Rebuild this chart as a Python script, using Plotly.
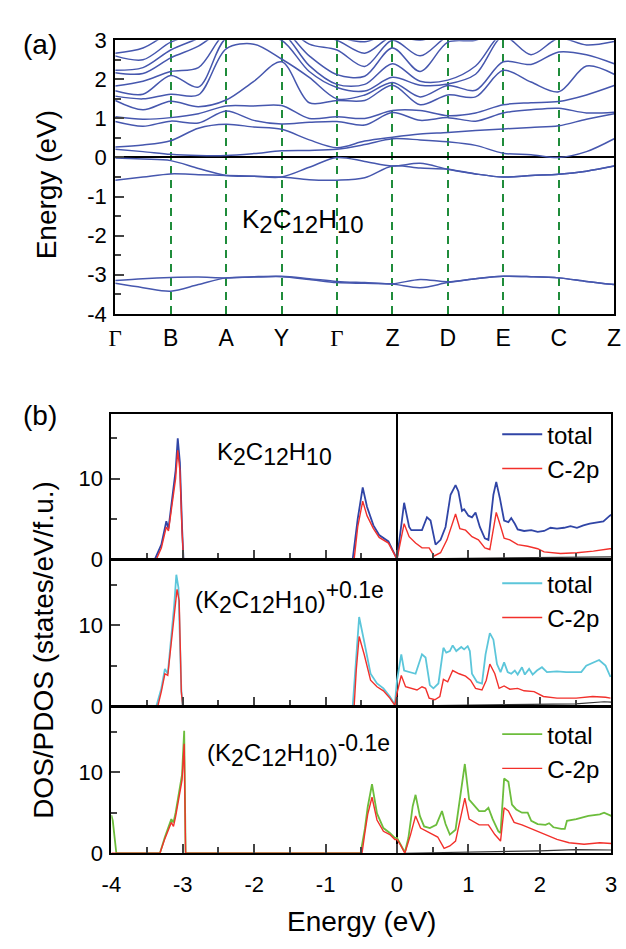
import plotly.graph_objects as go

# ---------------- (a) band structure ----------------
k_labels = ["Γ", "B", "A", "Y", "Γ", "Z", "D", "E", "C", "Z"]
k_path = [0, 0.5, 1, 1.5, 2, 2.5, 3, 3.5, 4, 4.5, 5, 5.5, 6, 6.5, 7, 7.5, 8, 8.5, 9]
energy_ticks = [-4, -3, -2, -1, 0, 1, 2, 3]

# deep valence bands (~ -3 eV)
vb_deep1 = [-3.22, -3.33, -3.42, -3.25, -3.08, -3.06, -3.05, -3.12, -3.20, -3.22, -3.24, -3.33, -3.20, -3.10, -3.04, -3.05, -3.08, -3.17, -3.25]
vb_deep2 = [-3.15, -3.10, -3.07, -3.06, -3.08, -3.05, -3.04, -3.10, -3.17, -3.20, -3.23, -3.12, -3.18, -3.10, -3.04, -3.05, -3.08, -3.17, -3.25]
# valence bands just below E_F
vb_top1 = [-0.58, -0.50, -0.42, -0.44, -0.46, -0.48, -0.50, -0.57, -0.58, -0.52, -0.22, -0.27, -0.30, -0.42, -0.50, -0.46, -0.43, -0.35, -0.22]
vb_top2 = [-0.01, -0.04, -0.08, -0.28, -0.46, -0.48, -0.50, -0.25, 0.00, -0.10, -0.22, -0.15, -0.30, -0.42, -0.50, -0.46, -0.43, -0.35, -0.22]
# conduction bands
cb1 = [0.21, 0.15, 0.08, 0.05, 0.05, 0.10, 0.17, 0.18, 0.21, 0.33, 0.48, 0.45, 0.40, 0.31, 0.11, 0.07, 0.00, 0.15, 0.48]
cb2 = [0.27, 0.32, 0.43, 0.75, 0.85, 0.78, 0.72, 0.45, 0.25, 0.42, 0.52, 0.60, 0.64, 0.69, 0.73, 0.77, 0.81, 0.98, 1.12]
cb3 = [0.92, 0.80, 0.93, 0.88, 1.19, 0.95, 0.86, 0.90, 0.92, 0.83, 1.15, 0.95, 1.02, 0.93, 1.14, 1.22, 1.26, 1.14, 1.16]
cb4 = [1.04, 0.98, 1.02, 1.12, 1.32, 1.32, 1.33, 1.00, 1.04, 1.00, 1.20, 1.20, 1.07, 1.14, 1.35, 1.40, 1.43, 1.60, 1.84]
cb5 = [1.46, 1.22, 1.44, 1.30, 1.47, 1.95, 2.45, 1.40, 1.46, 1.46, 1.85, 1.35, 1.60, 1.55, 2.23, 1.93, 1.68, 2.34, 2.13]
cb6 = [1.57, 1.50, 1.62, 1.60, 2.78, 2.90, 2.52, 2.05, 1.50, 1.60, 1.92, 1.55, 1.84, 1.72, 2.45, 2.38, 2.70, 2.63, 2.40]
cb7 = [1.71, 1.62, 2.10, 1.80, 3.05, 3.10, 3.00, 2.20, 1.79, 1.70, 2.05, 1.85, 1.88, 2.13, 3.10, 2.63, 3.05, 2.88, 2.97]
cb8 = [1.83, 1.95, 2.20, 2.30, 3.20, 3.25, 3.20, 2.35, 1.87, 1.87, 2.40, 1.95, 1.98, 2.34, 3.20, 3.10, 3.20, 3.20, 3.20]
cb9 = [2.17, 2.15, 2.55, 2.85, 3.30, 3.35, 3.30, 2.60, 2.12, 2.08, 2.80, 2.20, 2.95, 3.00, 3.30, 3.30, 3.30, 3.30, 3.30]
cb10 = [2.23, 2.30, 2.75, 3.05, 3.40, 3.45, 3.40, 2.90, 2.75, 2.33, 3.00, 2.60, 3.10, 3.20, 3.40, 3.40, 3.40, 3.40, 3.40]
cb11 = [2.60, 2.50, 2.95, 3.20, 3.50, 3.55, 3.50, 3.20, 3.00, 2.67, 3.10, 3.00, 3.20, 3.30, 3.50, 3.50, 3.50, 3.50, 3.50]
cb12 = [2.67, 2.80, 3.20, 3.40, 3.60, 3.65, 3.60, 3.40, 3.10, 2.96, 3.20, 3.10, 3.30, 3.40, 3.60, 3.60, 3.60, 3.60, 3.60]

bands = [vb_deep1, vb_deep2, vb_top1, vb_top2, cb1, cb2, cb3, cb4, cb5, cb6, cb7, cb8, cb9, cb10, cb11, cb12]

# ---------------- (b) DOS / PDOS ----------------
dos_ticks = [-4, -3, -2, -1, 0, 1, 2, 3]

# panel 1 : K2C12H10
p1_tot_e = [-4.0, -3.39, -3.30, -3.23, -3.20, -3.15, -3.10, -3.07, -3.04, -3.01, -2.99,
            -0.62, -0.55, -0.48, -0.42, -0.33, -0.25, -0.12, -0.05, 0.0,
            0.10, 0.17, 0.20, 0.35, 0.42, 0.47, 0.54, 0.61, 0.68, 0.75, 0.82, 0.86, 0.91, 0.94, 1.00, 1.05, 1.10,
            1.16, 1.23, 1.28, 1.35, 1.39, 1.44, 1.50, 1.56, 1.60, 1.65, 1.69, 1.78, 1.88, 1.97, 2.06, 2.15, 2.24,
            2.34, 2.43, 2.52, 2.61, 2.70, 2.80, 2.89, 2.98, 3.0]
p1_tot = [0.0, 0.0, 1.8, 4.7, 3.8, 7.5, 11.0, 15.0, 12.0, 4.0, 0.0,
          0.0, 5.0, 8.9, 6.5, 4.2, 3.0, 2.2, 1.0, 0.0,
          7.0, 4.0, 3.6, 3.6, 5.2, 4.8, 1.8, 2.4, 4.0, 8.0, 9.2, 8.4, 6.0, 6.2, 5.4, 5.2, 5.8,
          4.0, 2.6, 2.4, 8.0, 9.6, 7.6, 4.8, 4.6, 5.1, 4.4, 3.7, 3.5, 3.6, 3.4, 3.5, 3.9, 3.8,
          3.9, 4.1, 3.9, 4.2, 4.4, 4.6, 4.7, 5.4, 5.5]
p1_c2p_e = [-4.0, -3.37, -3.30, -3.23, -3.20, -3.15, -3.10, -3.07, -3.04, -3.01, -2.99,
            -0.60, -0.55, -0.48, -0.42, -0.33, -0.25, -0.12, -0.05, 0.0,
            0.10, 0.17, 0.26, 0.35, 0.45, 0.52, 0.61, 0.70, 0.82, 0.88, 0.96, 1.05, 1.14, 1.23, 1.30, 1.35,
            1.39, 1.44, 1.50, 1.58, 1.69, 1.83, 1.97, 2.06, 2.29, 2.52, 2.75, 2.98, 3.0]
p1_c2p = [0.0, 0.0, 1.4, 4.0, 3.5, 6.8, 10.0, 13.5, 11.0, 3.5, 0.0,
          0.0, 4.0, 7.2, 5.4, 3.8, 2.7, 2.0, 0.8, 0.0,
          4.4, 2.8, 2.0, 1.4, 1.4, 0.4, 0.8, 2.4, 5.6, 3.8, 3.6, 2.8, 2.4, 1.4, 1.2, 4.0,
          5.8, 4.4, 2.6, 2.4, 1.8, 1.6, 1.3, 0.9, 0.7, 0.8, 1.0, 1.3, 1.3]
p1_other_e = [0.0, 1.0, 2.0, 2.5, 3.0]
p1_other = [0.0, 0.08, 0.15, 0.2, 0.3]

# panel 2 : (K2C12H10)^+0.1e
p2_tot_e = [-4.0, -3.37, -3.30, -3.25, -3.21, -3.12, -3.09, -3.06, -3.02, -3.00,
            -0.62, -0.57, -0.53, -0.46, -0.37, -0.28, -0.19, -0.10, -0.03, 0.0,
            0.06, 0.10, 0.19, 0.26, 0.35, 0.40, 0.46, 0.51, 0.58, 0.65, 0.69, 0.74, 0.78, 0.83, 0.90, 0.94, 0.99,
            1.02, 1.05, 1.12, 1.19, 1.24, 1.30, 1.35, 1.40, 1.45, 1.50, 1.55, 1.60, 1.65, 1.69, 1.75, 1.79, 1.85,
            1.90, 1.96, 2.03, 2.10, 2.24, 2.37, 2.51, 2.58, 2.65, 2.74, 2.83, 2.92, 2.99]
p2_tot = [0.0, 0.0, 2.2, 4.6, 4.0, 12.4, 16.2, 14.6, 2.0, 0.0,
          0.0, 6.0, 11.0, 8.0, 4.0, 2.8, 2.2, 1.2, 0.2, 3.2,
          6.4, 4.4, 4.2, 4.0, 6.4, 6.0, 2.6, 2.2, 2.8, 7.2, 6.6, 6.8, 7.5, 6.8, 7.3, 7.0, 7.4,
          6.8, 4.0, 3.0, 2.8, 6.4, 9.0, 8.2, 5.2, 4.2, 5.4, 4.2, 4.0, 4.4, 3.9, 4.8, 3.9, 4.6,
          3.9, 4.4, 4.8, 4.2, 4.3, 4.2, 4.2, 4.2, 5.0, 5.4, 5.7, 5.0, 3.6]
p2_c2p_e = [-4.0, -3.35, -3.30, -3.25, -3.21, -3.12, -3.08, -3.05, -3.02, -3.00,
            -0.60, -0.57, -0.53, -0.46, -0.37, -0.28, -0.19, -0.10, -0.03, 0.0,
            0.06, 0.12, 0.21, 0.28, 0.35, 0.40, 0.45, 0.53, 0.60, 0.65, 0.71, 0.78, 0.87, 0.96, 1.03, 1.10,
            1.19, 1.25, 1.30, 1.37, 1.43, 1.50, 1.58, 1.69, 1.78, 1.92, 2.05, 2.24, 2.51, 2.74, 2.92, 2.99]
p2_c2p = [0.0, 0.0, 1.8, 4.0, 3.8, 11.0, 14.4, 13.0, 1.8, 0.0,
          0.0, 4.5, 8.6, 6.4, 3.2, 2.4, 1.9, 1.0, 0.1, 1.6,
          3.8, 2.4, 2.2, 2.0, 2.4, 2.2, 1.0, 0.8, 1.2, 3.3, 3.0, 4.4, 4.0, 3.7, 3.2, 2.2,
          2.0, 3.2, 5.2, 4.0, 2.2, 2.5, 2.1, 2.2, 1.9, 1.8, 1.2, 1.0, 1.0, 1.2, 1.1, 1.0]
p2_other_e = [0.0, 1.0, 2.0, 2.5, 2.9, 3.0]
p2_other = [0.0, 0.1, 0.2, 0.3, 0.55, 0.5]

# panel 3 : (K2C12H10)^-0.1e
p3_tot_e = [-4.0, -3.98, -3.93, -3.32, -3.25, -3.16, -3.13, -3.10, -3.01, -2.98, -2.96,
            -0.51, -0.45, -0.41, -0.35, -0.28, -0.19, -0.10, -0.03, 0.0, 0.05, 0.11,
            0.16, 0.22, 0.26, 0.32, 0.38, 0.46, 0.55, 0.63, 0.68, 0.74, 0.82, 0.87, 0.95, 1.01, 1.07, 1.15,
            1.23, 1.28, 1.34, 1.42, 1.45, 1.50, 1.56, 1.61, 1.67, 1.75, 1.83, 1.88, 1.97, 2.08, 2.13, 2.19,
            2.30, 2.35, 2.38, 2.51, 2.68, 2.84, 2.90, 3.0]
p3_tot = [4.7, 4.0, 0.0, 0.0, 2.0, 4.2, 3.8, 5.0, 9.7, 15.1, 0.0,
          0.0, 3.0, 5.7, 8.5, 4.9, 3.1, 2.5, 1.9, 1.9, 1.1, 0.1,
          1.9, 5.8, 7.2, 4.6, 3.3, 3.1, 3.5, 5.2, 3.6, 2.3, 2.9, 5.8, 11.0, 6.6, 6.0, 5.2,
          5.2, 5.6, 4.2, 2.7, 2.5, 9.2, 8.8, 6.0, 5.4, 5.0, 5.0, 4.0, 3.6, 3.5, 3.7, 3.2,
          3.0, 3.0, 4.0, 4.2, 4.6, 4.8, 5.0, 4.6]
p3_c2p_e = [-4.0, -3.32, -3.25, -3.16, -3.13, -3.10, -3.01, -2.98, -2.96,
            -0.49, -0.45, -0.41, -0.35, -0.28, -0.19, -0.10, -0.03, 0.0, 0.05, 0.11,
            0.19, 0.26, 0.33, 0.44, 0.57, 0.66, 0.74, 0.82, 0.87, 0.95, 1.01, 1.15, 1.28, 1.37, 1.45, 1.50,
            1.56, 1.64, 1.75, 1.91, 2.08, 2.24, 2.41, 2.62, 2.84, 3.0]
p3_c2p = [0.0, 0.0, 1.8, 3.8, 3.3, 4.5, 9.0, 13.5, 0.0,
          0.0, 2.5, 4.8, 6.9, 4.1, 2.7, 2.3, 1.7, 1.7, 1.0, 0.0,
          2.3, 4.6, 3.1, 2.6, 2.0, 0.6, 0.9, 1.5, 3.5, 6.8, 4.2, 3.5, 3.5, 2.3, 1.5, 5.6,
          5.2, 3.8, 3.5, 2.9, 2.3, 1.7, 1.3, 1.1, 1.3, 1.2]
p3_other_e = [0.1, 1.0, 2.0, 2.5, 3.0]
p3_other = [0.0, 0.1, 0.3, 0.45, 0.4]

band_color = "#4657AE"
red = "#F2302B"
tot_colors = ["#3045A6", "#5CC6DA", "#6CBD3C"]


def sub(t, s):
    return f"<sub><span style='font-size:{s}px'>{t}</span></sub>"


def sup(t, s):
    return f"<sup><span style='font-size:{s}px'>{t}</span></sup>"


S = 23
formula = f"K{sub('2', S)}C{sub('12', S)}H{sub('10', S)}"
panel_labels = [formula, f"({formula}){sup('+0.1e', S)}", f"({formula}){sup('-0.1e', S)}"]

FONT = "Liberation Sans, Arial, sans-serif"
W, H = 626, 949


def px(x):
    return x / W


def py(y):
    return 1 - y / H


fig = go.Figure()

for b in bands:
    fig.add_trace(go.Scatter(x=k_path, y=b, mode="lines", xaxis="x", yaxis="y",
                             line=dict(color=band_color, width=1.5, shape="spline", smoothing=0.9),
                             showlegend=False, hoverinfo="skip"))

panels = [
    (p1_tot_e, p1_tot, p1_c2p_e, p1_c2p, p1_other_e, p1_other),
    (p2_tot_e, p2_tot, p2_c2p_e, p2_c2p, p2_other_e, p2_other),
    (p3_tot_e, p3_tot, p3_c2p_e, p3_c2p, p3_other_e, p3_other),
]
for i, (te, tv, ce, cv, oe, ov) in enumerate(panels):
    xa, ya = f"x{i+2}", f"y{i+2}"
    lg = "legend" if i == 0 else f"legend{i+1}"
    fig.add_trace(go.Scatter(x=oe, y=ov, mode="lines", xaxis=xa, yaxis=ya,
                             line=dict(color="#333333", width=1.2), showlegend=False))
    fig.add_trace(go.Scatter(x=te, y=tv, mode="lines", xaxis=xa, yaxis=ya, name="total",
                             line=dict(color=tot_colors[i], width=1.8), legend=lg))
    fig.add_trace(go.Scatter(x=ce, y=cv, mode="lines", xaxis=xa, yaxis=ya, name="C-2p",
                             line=dict(color=red, width=1.4), legend=lg))

TICK = 22
axis_common = dict(showline=True, mirror=True, linecolor="black", linewidth=2,
                   showgrid=False, tickfont=dict(family=FONT, size=TICK, color="black"))

top_dom_x = [px(108), px(620)]
top_dom_y = [py(310), py(29)]
gamma = "<span style='font-family:Liberation Serif, serif'>Γ</span>"
fig.update_layout(
    xaxis=dict(axis_common, domain=top_dom_x, range=[0, 9], tickvals=list(range(10)),
               ticktext=[gamma if l == "Γ" else l for l in k_labels], ticks="",
               tickfont=dict(family=FONT, size=23, color="black"), ticklabelstandoff=3,
               showgrid=True, gridcolor="#1F8C3B", gridwidth=2, griddash="8px,6px", zeroline=False),
    yaxis=dict(axis_common, domain=top_dom_y, range=[-4, 3], tickvals=energy_ticks,
               ticktext=[str(v) for v in energy_ticks], ticks="inside", ticklen=9,
               tickwidth=1.5, minor=dict(dtick=0.5, ticks="inside", ticklen=6, tickwidth=1.5),
               ticklabelstandoff=2,
               zeroline=True, zerolinecolor="black", zerolinewidth=2),
)

dos_x = [px(104), px(617)]
dos_y = [[py(562), py(413)], [py(713), py(563)], [py(864), py(714)]]
for i in range(3):
    xa = dict(axis_common, domain=dos_x, range=[-4, 3], tickvals=dos_ticks,
              ticktext=[str(v) for v in dos_ticks], ticks="inside", ticklen=9, tickwidth=1.5,
              minor=dict(dtick=0.5, ticks="inside", ticklen=6, tickwidth=1.5),
              zeroline=True, zerolinecolor="black", zerolinewidth=2,
              anchor=f"y{i+2}", showticklabels=(i == 2), ticklabelstandoff=10)
    ya = dict(axis_common, domain=dos_y[i], range=[0, 18], tickvals=[0, 10], ticks="inside", ticklen=9,
              tickwidth=1.5, minor=dict(tickvals=[5, 15], ticks="inside", ticklen=6, tickwidth=1.5),
              ticklabelstandoff=2, zeroline=False, anchor=f"x{i+2}")
    fig.layout[f"xaxis{i+2}"] = xa
    fig.layout[f"yaxis{i+2}"] = ya

leg_common = dict(font=dict(family=FONT, size=24, color="black"), bgcolor="rgba(0,0,0,0)",
                  xanchor="left", yanchor="top", tracegroupgap=0, itemwidth=40)
fig.update_layout(
    legend=dict(leg_common, x=px(500), y=py(411)),
    legend2=dict(leg_common, x=px(500), y=py(564)),
    legend3=dict(leg_common, x=px(500), y=py(719)),
)

TITLE = 28
annotations = [
    dict(text="(a)", x=px(31), y=py(33), xref="paper", yref="paper", showarrow=False,
         xanchor="center", yanchor="middle", font=dict(family=FONT, size=28, color="black")),
    dict(text="(b)", x=px(31), y=py(414), xref="paper", yref="paper", showarrow=False,
         xanchor="center", yanchor="middle", font=dict(family=FONT, size=28, color="black")),
    dict(text="Energy (eV)", x=px(37), y=py(178), xref="paper", yref="paper", showarrow=False,
         xanchor="center", yanchor="middle", textangle=-90,
         font=dict(family=FONT, size=TITLE, color="black")),
    dict(text="Energy (eV)", x=px(361), y=py(934), xref="paper", yref="paper", showarrow=False,
         xanchor="center", yanchor="middle", font=dict(family=FONT, size=TITLE, color="black")),
    dict(text="DOS/PDOS (states/eV/f.u.)", x=px(35), y=py(655), xref="paper", yref="paper",
         xanchor="center", yanchor="middle", showarrow=False, textangle=-90,
         font=dict(family=FONT, size=TITLE, color="black")),
    dict(text=f"K{sub('2', 24)}C{sub('12', 24)}H{sub('10', 24)}",
         x=3.39, y=-1.62, xref="x", yref="y", showarrow=False, xanchor="center", yanchor="middle",
         font=dict(family=FONT, size=26, color="black")),
]
label_pos = [(-1.72, 13.0), (-1.5, 13.4), (-1.38, 12.7)]
for i, (lx, ly) in enumerate(label_pos):
    annotations.append(dict(text=panel_labels[i], x=lx, y=ly, xref=f"x{i+2}", yref=f"y{i+2}",
                            xanchor="center", yanchor="middle", showarrow=False,
                            font=dict(family=FONT, size=24, color="black")))
fig.update_layout(annotations=annotations)

fig.update_layout(width=W, height=H, margin=dict(l=0, r=0, t=0, b=0),
                  paper_bgcolor="white", plot_bgcolor="white", showlegend=True)

fig.write_html("out.html")
